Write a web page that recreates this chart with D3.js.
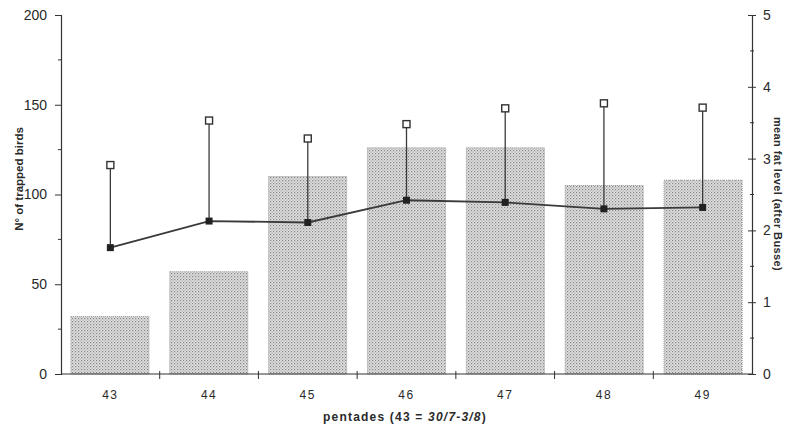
<!DOCTYPE html>
<html>
<head>
<meta charset="utf-8">
<script src="https://cdn.jsdelivr.net/npm/d3@7"></script>
<style>
  html, body { margin: 0; padding: 0; background: #fff; }
  svg { display: block; }
  text { font-family: "Liberation Sans", Arial, sans-serif; fill: #2a2a2a; }
</style>
</head>
<body>
<svg id="chart" width="788" height="427"></svg>
<script>
// Pentades (5-day periods) on the x axis
const pentades = ["43", "44", "45", "46", "47", "48", "49"];
// Number of trapped birds per pentade (bars, left axis)
const trapped = [32, 57, 110, 126, 126, 105, 108];
// Mean fat level per pentade (line, right axis)
const meanFat = [1.76, 2.13, 2.11, 2.42, 2.39, 2.30, 2.32];
// Upper end of the error bar (mean + SD) per pentade
const fatUpper = [2.91, 3.53, 3.28, 3.48, 3.70, 3.77, 3.71];
// Tick values
const leftTicks = [0, 50, 100, 150, 200];
const rightTicks = [0, 1, 2, 3, 4, 5];

const svg = d3.select("#chart");
const m = { left: 61, right: 752, top: 15, bottom: 374 };

const x = d3.scaleBand().domain(pentades).range([m.left, m.right]).paddingInner(0.21).paddingOuter(0.1);
const xb = d3.scaleBand().domain(pentades).range([m.left, m.right]);
const yL = d3.scaleLinear().domain([0, 200]).range([m.bottom, m.top]);
const yR = d3.scaleLinear().domain([0, 5]).range([m.bottom, m.top]);

// Stippled fill for the bars
const defs = svg.append("defs");
const pat = defs.append("pattern").attr("id", "stipple")
  .attr("width", 3).attr("height", 3).attr("patternUnits", "userSpaceOnUse");
pat.append("rect").attr("width", 3).attr("height", 3).attr("fill", "#e0e0e0");
pat.append("rect").attr("x", 0).attr("y", 0).attr("width", 1.2).attr("height", 1.2).attr("fill", "#858585");
pat.append("rect").attr("x", 1.5).attr("y", 1.5).attr("width", 1.2).attr("height", 1.2).attr("fill", "#a5a5a5");

// Bars
svg.append("g").selectAll("rect").data(pentades).join("rect")
  .attr("x", d => x(d))
  .attr("width", x.bandwidth())
  .attr("y", (d, i) => yL(trapped[i]))
  .attr("height", (d, i) => m.bottom - yL(trapped[i]))
  .attr("fill", "url(#stipple)")
  .attr("stroke", "#999")
  .attr("stroke-width", 1)
  .attr("stroke-dasharray", "1,1");

// Left axis
const axL = d3.axisLeft(yL).tickValues(leftTicks).tickSize(6).tickPadding(8);
const gL = svg.append("g").attr("transform", `translate(${m.left},0)`).call(axL);
gL.selectAll(".minor").data([25, 75, 125, 175]).join("line").attr("class", "minor")
  .attr("x1", -3).attr("x2", 1).attr("y1", d => yL(d)).attr("y2", d => yL(d)).attr("stroke", "#333");

// Right axis
const axR = d3.axisRight(yR).tickValues(rightTicks).tickFormat(d3.format("d")).tickSize(4).tickPadding(7);
const gR = svg.append("g").attr("transform", `translate(${m.right},0)`).call(axR);
gR.selectAll(".tick line").attr("x1", -4);
gR.selectAll(".minor").data([0.5, 1.5, 2.5, 3.5, 4.5]).join("line").attr("class", "minor")
  .attr("x1", -2).attr("x2", 2).attr("y1", d => yR(d)).attr("y2", d => yR(d)).attr("stroke", "#333");

// Bottom axis with ticks at the category boundaries
const gX = svg.append("g").attr("transform", `translate(0,${m.bottom})`);
gX.append("line").attr("x1", m.left).attr("x2", m.right).attr("stroke", "#333").attr("stroke-width", 1.2);
gX.selectAll(".bt").data(pentades.slice(1)).join("line").attr("class", "bt")
  .attr("x1", d => xb(d)).attr("x2", d => xb(d)).attr("y1", -3).attr("y2", 5).attr("stroke", "#333");
gX.selectAll(".lbl").data(pentades).join("text").attr("class", "lbl")
  .attr("x", d => xb(d) + xb.bandwidth() / 2).attr("y", 25)
  .attr("text-anchor", "middle").attr("font-size", 12).attr("letter-spacing", 1.5).text(d => d);

[gL, gR].forEach(g => {
  g.select(".domain").attr("stroke", "#333").attr("stroke-width", 1.2);
  g.selectAll(".tick line").attr("stroke", "#333");
  g.selectAll(".tick text").attr("font-size", 14).attr("fill", "#2a2a2a");
});

// Error bars (mean to mean + SD)
const cx = d => xb(d) + xb.bandwidth() / 2;
svg.append("g").selectAll("line").data(pentades).join("line")
  .attr("x1", cx).attr("x2", cx)
  .attr("y1", (d, i) => yR(meanFat[i])).attr("y2", (d, i) => yR(fatUpper[i]))
  .attr("stroke", "#3a3a3a").attr("stroke-width", 1.3);

// Mean fat line
const line = d3.line().x((d, i) => cx(pentades[i])).y(d => yR(d));
svg.append("path").datum(meanFat).attr("d", line)
  .attr("fill", "none").attr("stroke", "#3a3a3a").attr("stroke-width", 1.8);

// Upper markers (open squares)
svg.append("g").selectAll("rect").data(pentades).join("rect")
  .attr("x", d => cx(d) - 3.5).attr("y", (d, i) => yR(fatUpper[i]) - 3.5)
  .attr("width", 7).attr("height", 7)
  .attr("fill", "#fff").attr("stroke", "#333").attr("stroke-width", 1.4);

// Mean markers (filled squares)
svg.append("g").selectAll("rect").data(pentades).join("rect")
  .attr("x", d => cx(d) - 3.5).attr("y", (d, i) => yR(meanFat[i]) - 3.5)
  .attr("width", 7).attr("height", 7).attr("fill", "#222");

// Axis titles
svg.append("text").attr("transform", "translate(23,179) rotate(-90)")
  .attr("text-anchor", "middle").attr("font-size", 11.5).attr("font-weight", "bold")
  .attr("fill", "#333").text("N° of trapped birds");
svg.append("text").attr("transform", "translate(774,194) rotate(90)")
  .attr("text-anchor", "middle").attr("font-size", 11).attr("font-weight", "bold")
  .attr("letter-spacing", 0.4).attr("fill", "#333").text("mean fat level (after Busse)");
const xt = svg.append("text").attr("x", 405).attr("y", 421)
  .attr("text-anchor", "middle").attr("font-size", 12).attr("font-weight", "bold")
  .attr("letter-spacing", 1.2).attr("fill", "#333");
xt.append("tspan").text("pentades (43 = ");
xt.append("tspan").attr("font-style", "italic").text("30/7-3/8");
xt.append("tspan").text(")");
</script>
</body>
</html>
